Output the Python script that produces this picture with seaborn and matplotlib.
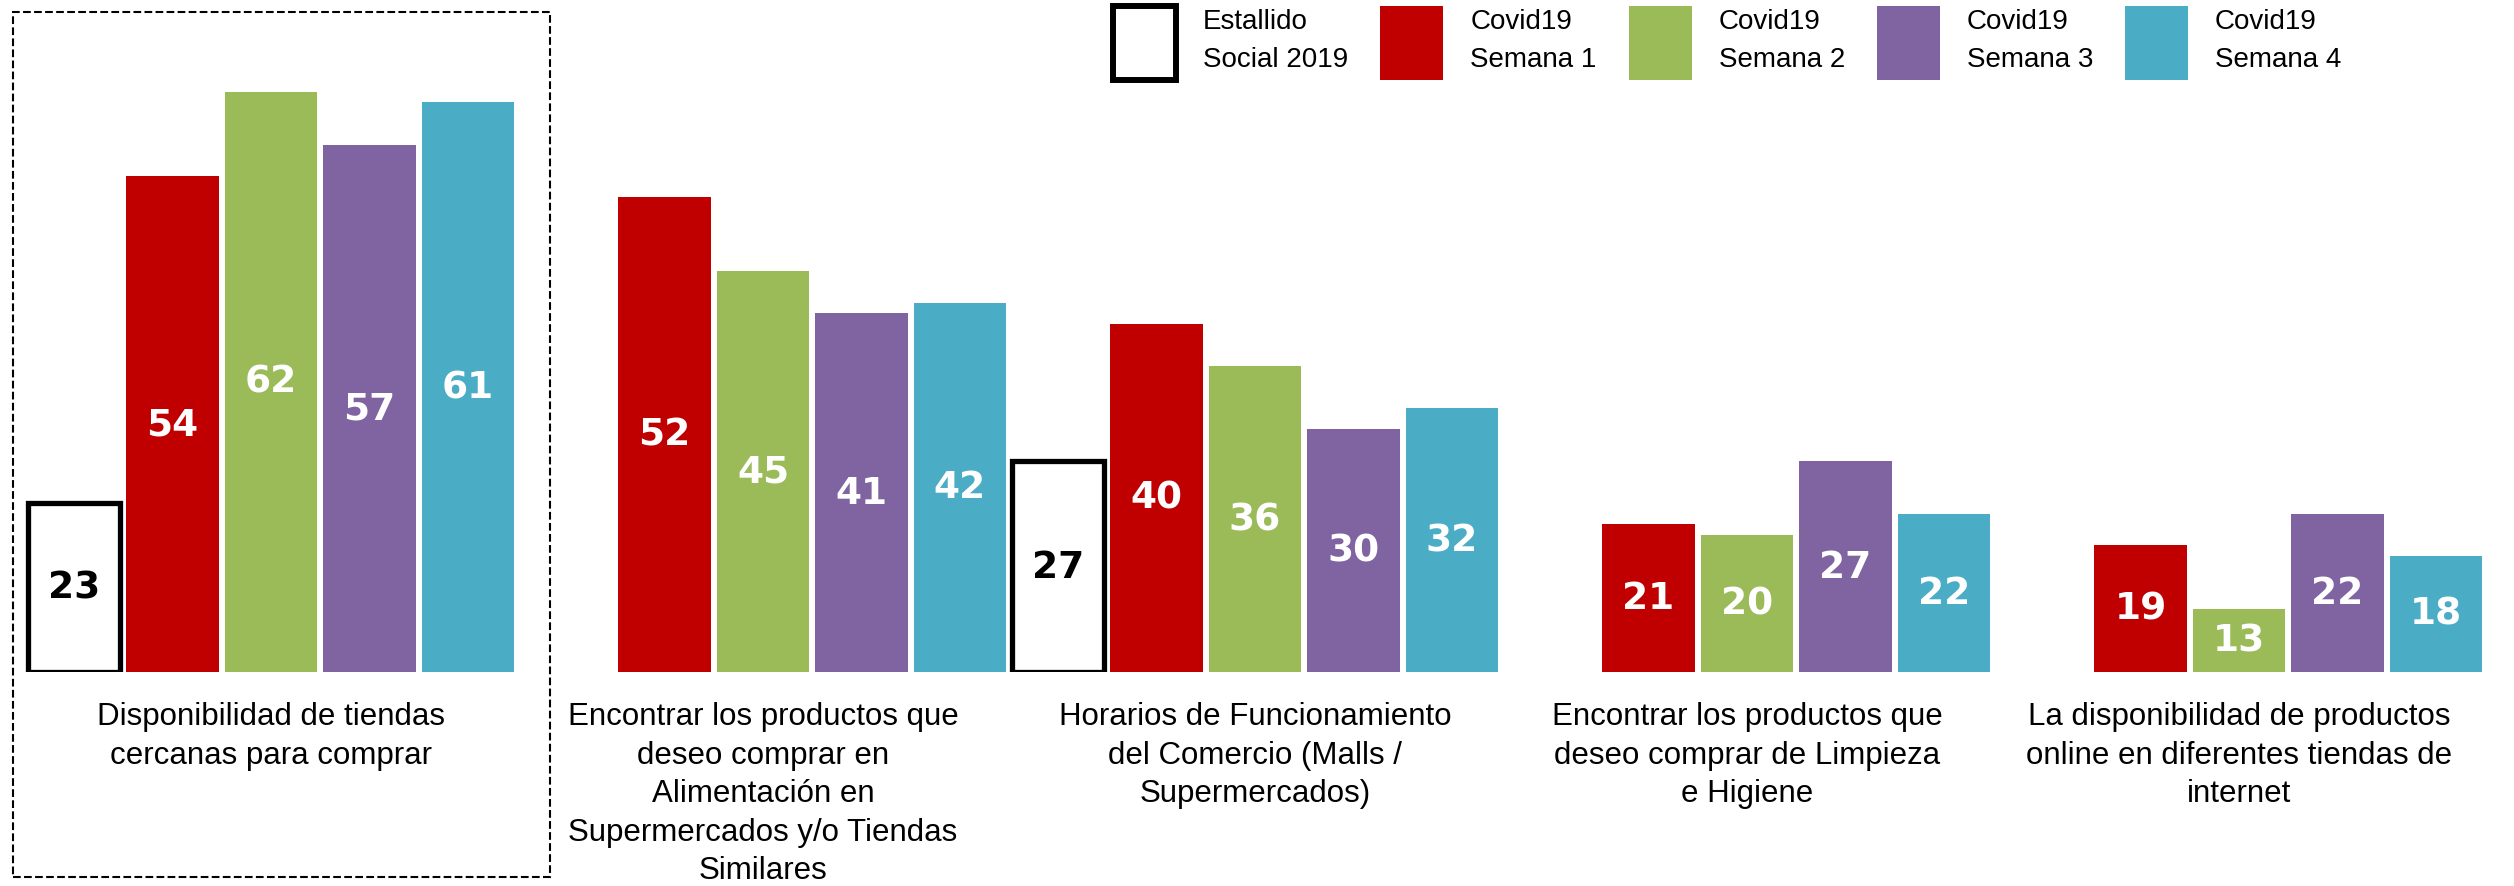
import numpy as np
import pandas as pd
import matplotlib
matplotlib.use("Agg")
import matplotlib.pyplot as plt
from matplotlib.patches import Rectangle, Patch
import seaborn as sns

# ---- data ----
categorias = [
    "Disponibilidad de tiendas\ncercanas para comprar",
    "Encontrar los productos que\ndeseo comprar en\nAlimentación en\nSupermercados y/o Tiendas\nSimilares",
    "Horarios de Funcionamiento\ndel Comercio (Malls /\nSupermercados)",
    "Encontrar los productos que\ndeseo comprar de Limpieza\ne Higiene",
    "La disponibilidad de productos\nonline en diferentes tiendas de\ninternet",
]
series = ["Estallido\nSocial 2019", "Covid19\nSemana 1", "Covid19\nSemana 2",
          "Covid19\nSemana 3", "Covid19\nSemana 4"]
estallido = [23, np.nan, 27, np.nan, np.nan]
semana1 = [54, 52, 40, 21, 19]
semana2 = [62, 45, 36, 20, 13]
semana3 = [57, 41, 30, 27, 22]
semana4 = [61, 42, 32, 22, 18]

colores = ["#FFFFFF", "#C00000", "#9BBB59", "#8064A2", "#4BACC6"]

rows = []
for s, vals in zip(series, [estallido, semana1, semana2, semana3, semana4]):
    for c, v in zip(categorias, vals):
        rows.append({"categoria": c, "serie": s, "valor": v})
df = pd.DataFrame(rows).dropna()

# ---- style ----
sns.set_style("white")
plt.rcParams["font.family"] = ["Liberation Sans", "DejaVu Sans"]
plt.rcParams["text.color"] = "black"
plt.rcParams["xtick.color"] = "black"

W, H = 2514, 887
fig = plt.figure(figsize=(W / 100, H / 100), dpi=100)
base_px = 673
ax = fig.add_axes([0, (H - base_px) / H, 1, base_px / H])

palette = dict(zip(series, colores))
sns.barplot(data=df, x="categoria", y="valor", hue="serie", order=categorias,
            hue_order=series, palette=palette, saturation=1, width=1.0,
            gap=0.06, dodge=True, ax=ax, legend=False, linewidth=0)

y0 = 7.0
ax.set_ylim(y0, 70.8)
px_per_unit = 492  # group pitch in pixels
ax.set_xlim(-271 / px_per_unit, (W - 271) / px_per_unit)

# bars start at the visible baseline; labels in the middle
for i, cont in enumerate(ax.containers):
    for p in cont.patches:
        h = p.get_height()
        if not np.isfinite(h) or h == 0:
            continue
        p.set_y(y0)
        p.set_height(h - y0)
        if i == 0:
            p.set_facecolor("white")
            p.set_edgecolor("black")
            p.set_linewidth(3.8)
            p.set_joinstyle("miter")
        ax.text(p.get_x() + p.get_width() / 2, (y0 + h) / 2, f"{int(h)}",
                ha="center", va="center", fontsize=27, fontweight="bold",
                family="DejaVu Sans",
                color="black" if i == 0 else "white")

sns.despine(ax=ax, left=True, bottom=True, top=True, right=True)
ax.set_yticks([])
ax.set_ylabel("")
ax.set_xlabel("")
ax.set_xticks(range(len(categorias)))
ax.set_xticklabels(categorias, fontsize=22.5, color="black")
for t in ax.get_xticklabels():
    t.set_linespacing(1.37)
    t.set_va("top")
ax.tick_params(axis="x", length=0, pad=21)

# legend
handles = []
for s, c in zip(series, colores):
    if c == "#FFFFFF":
        handles.append(Patch(facecolor="white", edgecolor="black", linewidth=4.3,
                             joinstyle="miter"))
    else:
        handles.append(Patch(facecolor=c, edgecolor="none"))
leg = fig.legend(handles=handles, labels=series, loc="upper left",
                 bbox_to_anchor=(1113 / W, 1 - 7 / H), ncol=5, frameon=False,
                 fontsize=20, handlelength=2.27, handleheight=3.7,
                 handletextpad=0.97, columnspacing=1.15, borderpad=0,
                 borderaxespad=0)
for t in leg.get_texts():
    t.set_linespacing(1.6)
    t.set_color("black")

# dashed highlight box around first group
fig.add_artist(Rectangle((13 / W, 1 - 878 / H), (550 - 13) / W, (878 - 13) / H,
                         transform=fig.transFigure, fill=False, ls="--",
                         lw=1.5, ec="black"))

fig.savefig("out.png", dpi=100)
